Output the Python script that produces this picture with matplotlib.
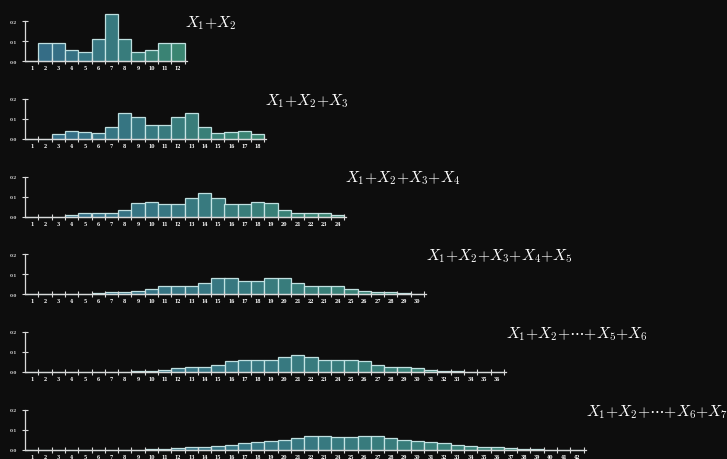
import matplotlib
matplotlib.use("Agg")
import matplotlib.pyplot as plt
import numpy as np
from matplotlib.colors import LinearSegmentedColormap

plt.rcParams["mathtext.fontset"] = "cm"

# probability of each sum, starting at sum = 1
sum2 = [0, .092, .092, .053, .047, .108, .233, .108, .047, .053, .092, .092]
sum3 = [0, 0, .023, .040, .032, .027, .057, .128, .108, .067, .067, .108, .128,
        .057, .027, .032, .040, .023]
sum4 = [0, 0, 0, .010, .017, .018, .018, .032, .067, .075, .062, .062, .092,
        .120, .092, .062, .062, .075, .067, .032, .018, .018, .017, .010]
sum5 = [0, 0, 0, 0, .003, .007, .010, .010, .015, .027, .040, .040, .040, .058,
        .082, .080, .065, .065, .080, .082, .058, .040, .040, .040, .027, .015,
        .010, .010, .007, .003]
sum6 = [0, 0, 0, 0, 0, 0, 0, .002, .004, .007, .012, .020, .024, .027, .037,
        .054, .061, .059, .061, .073, .083, .073, .061, .059, .061, .054, .037,
        .027, .024, .020, .012, .007, .004, .002, 0, 0]
sum7 = [0, 0, 0, 0, 0, 0, 0, 0, 0, .002, .003, .007, .012, .013, .017, .022,
        .032, .040, .043, .047, .057, .067, .068, .065, .065, .068, .067, .057,
        .047, .043, .040, .032, .022, .017, .013, .012, .007, .003, .002, 0, 0, 0]

rows = [sum2, sum3, sum4, sum5, sum6, sum7]
labels = [
    r"$X_1{+}X_2$",
    r"$X_1{+}X_2{+}X_3$",
    r"$X_1{+}X_2{+}X_3{+}X_4$",
    r"$X_1{+}X_2{+}X_3{+}X_4{+}X_5$",
    r"$X_1{+}X_2{+}{\cdots}{+}X_5{+}X_6$",
    r"$X_1{+}X_2{+}{\cdots}{+}X_6{+}X_7$",
]

W, H = 727, 460
BG = "#0d0d0d"
AXIS = "#d9d9d9"
unit = 13.3          # pixels per sum value
x_left = 25          # pixel of x = 0.5
zero0 = 62           # pixel row of y = 0 for the first panel
row_gap = 77.75
px_02 = 40           # pixels for 0.2

cmap = LinearSegmentedColormap.from_list("dice", ["#37708f", "#3a7f88", "#3e8c77"])

fig = plt.figure(figsize=(W / 100, H / 100), dpi=100, facecolor=BG)

for i, (vals, label) in enumerate(zip(rows, labels)):
    n = len(vals)
    xs = np.arange(1, n + 1)
    zero_px = zero0 + i * row_gap
    ymax = 0.25
    h_px = px_02 * ymax / 0.2
    w_px = (n + 0.15) * unit
    ax = fig.add_axes([x_left / W, (H - zero_px) / H, w_px / W, h_px / H])
    ax.set_facecolor("none")
    ax.set_xlim(0.5, n + 0.65)
    ax.set_ylim(0, ymax)

    colors = cmap((xs - 1) / (n - 1))
    ax.bar(xs, vals, width=1.0, color=colors, edgecolor="#c8e8e8",
           linewidth=0.9, alpha=0.95, clip_on=False)

    for side in ["top", "right"]:
        ax.spines[side].set_visible(False)
    ax.spines["left"].set_bounds(0, 0.2)
    for side in ["left", "bottom"]:
        ax.spines[side].set_color(AXIS)
        ax.spines[side].set_linewidth(0.9)

    ax.set_yticks([0, 0.1, 0.2])
    ax.set_yticklabels(["0.0", "0.1", "0.2"])
    ax.tick_params(axis="y", direction="inout", length=4, width=0.8,
                   colors=AXIS, labelsize=3, pad=4)

    ax.set_xticks(xs)
    ax.set_xticklabels([str(v) for v in xs])
    ax.set_xticks(np.arange(1.5, n + 0.6, 1.0), minor=True)
    ax.tick_params(axis="x", which="major", length=0, labelsize=3.3,
                   colors="white", pad=3)
    ax.tick_params(axis="x", which="minor", direction="inout", length=4,
                   width=0.8, color=AXIS)
    for t in ax.get_xticklabels() + ax.get_yticklabels():
        t.set_family("DejaVu Serif")
        t.set_weight("bold")

    fig.text((185 + 80.2 * i) / W, 1 - (zero_px - 39) / H, label,
             color="white", fontsize=11.3, va="center", ha="left")

fig.savefig("out.png", dpi=100, facecolor=BG)
